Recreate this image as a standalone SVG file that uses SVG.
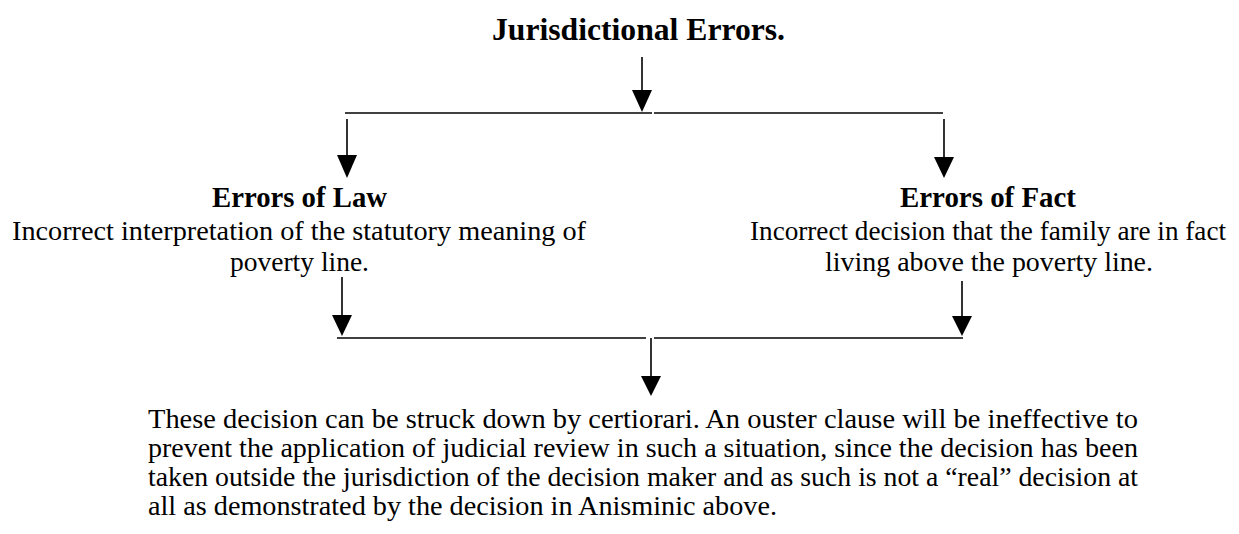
<svg xmlns="http://www.w3.org/2000/svg" width="1239" height="534" viewBox="0 0 1239 534">
<style>
text{font-family:"Liberation Serif","Times New Roman",serif;fill:#000}
.t{font-size:32px;font-weight:bold}
.h{font-size:29px;font-weight:bold}
.b{font-size:28px}
.ln{stroke:#000;stroke-width:1.6;fill:none}
.ah{fill:#000}
</style>
<rect width="1239" height="534" fill="#fff"/>
<g id="title"><text class="t" x="492" y="40" textLength="293" lengthAdjust="spacingAndGlyphs">Jurisdictional Errors.</text></g>
<g id="law">
<text class="h" x="212" y="207" textLength="175" lengthAdjust="spacingAndGlyphs">Errors of Law</text>
<text class="b" x="12" y="240" textLength="574" lengthAdjust="spacingAndGlyphs">Incorrect interpretation of the statutory meaning of</text>
<text class="b" x="230" y="271" textLength="139" lengthAdjust="spacingAndGlyphs">poverty line.</text>
</g>
<g id="fact">
<text class="h" x="900" y="207" textLength="176" lengthAdjust="spacingAndGlyphs">Errors of Fact</text>
<text class="b" x="750" y="240" textLength="476" lengthAdjust="spacingAndGlyphs">Incorrect decision that the family are in fact</text>
<text class="b" x="825" y="271" textLength="328" lengthAdjust="spacingAndGlyphs">living above the poverty line.</text>
</g>
<g id="result">
<text class="b" x="148" y="428" textLength="990" lengthAdjust="spacingAndGlyphs">These decision can be struck down by certiorari. An ouster clause will be ineffective to</text>
<text class="b" x="148" y="457" textLength="990" lengthAdjust="spacingAndGlyphs">prevent the application of judicial review in such a situation, since the decision has been</text>
<text class="b" x="148" y="486" textLength="990" lengthAdjust="spacingAndGlyphs">taken outside the jurisdiction of the decision maker and as such is not a “real” decision at</text>
<text class="b" x="148" y="515" textLength="629" lengthAdjust="spacingAndGlyphs">all as demonstrated by the decision in Anisminic above.</text>
</g>
<g id="connectors">
<line class="ln" x1="345" y1="113" x2="652" y2="113"/>
<line class="ln" x1="654" y1="113" x2="943" y2="113"/>
<line class="ln" x1="642" y1="57" x2="642" y2="91"/>
<polygon class="ah" points="632,90 652,90 642,112"/>
<line class="ln" x1="347" y1="119" x2="347" y2="156"/>
<polygon class="ah" points="337,155 357,155 347,178"/>
<line class="ln" x1="944" y1="119" x2="944" y2="158"/>
<polygon class="ah" points="934,157 954,157 944,178"/>
<line class="ln" x1="342" y1="277" x2="342" y2="316"/>
<polygon class="ah" points="332,315 352,315 342,336"/>
<line class="ln" x1="962" y1="281" x2="962" y2="317"/>
<polygon class="ah" points="952,316 972,316 962,336"/>
<line class="ln" x1="337" y1="338" x2="646" y2="338"/>
<line class="ln" x1="654" y1="338" x2="963" y2="338"/>
<line class="ln" x1="651" y1="338" x2="651" y2="377"/>
<polygon class="ah" points="641,376 661,376 651,396"/>
</g>
</svg>
